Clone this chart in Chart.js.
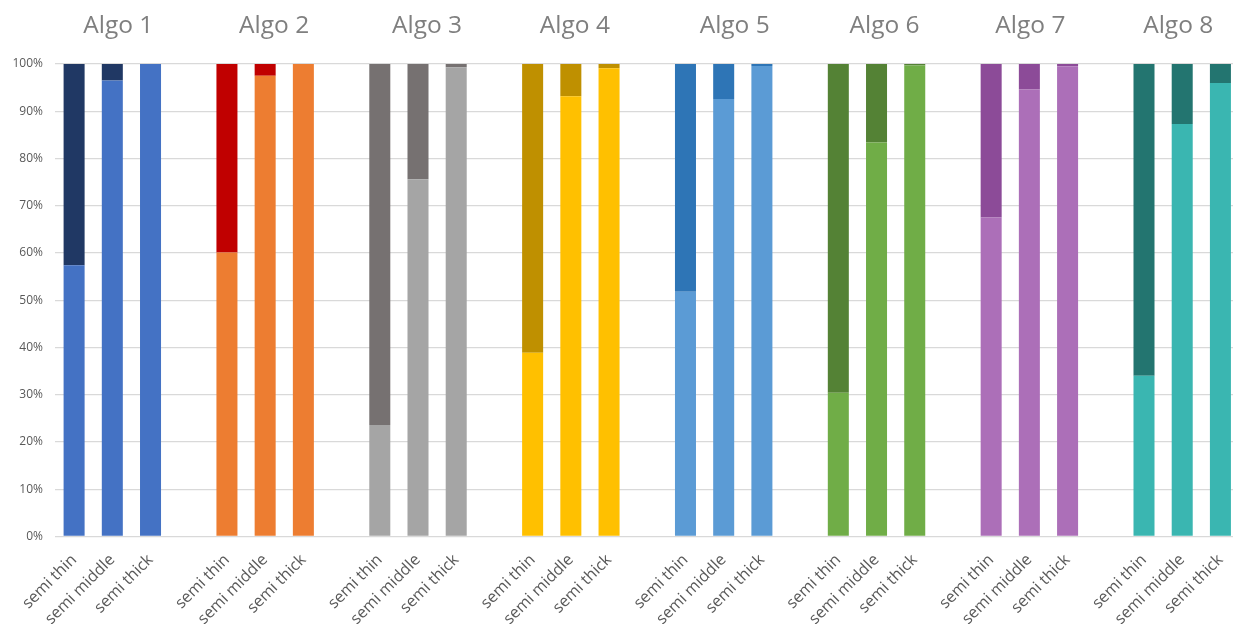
<!DOCTYPE html>
<html>
<head>
<meta charset="utf-8">
<script src="https://cdn.jsdelivr.net/npm/chart.js@4"></script>
<style>
  html, body { margin: 0; padding: 0; background: #fff; overflow: hidden; }
  #wrap { width: 1240px; height: 624px; }
</style>
</head>
<body>
<div id="wrap"><canvas id="shareChart"></canvas></div>
<script>
// Groups and bars inside each group
const algos = ['Algo 1', 'Algo 2', 'Algo 3', 'Algo 4', 'Algo 5', 'Algo 6', 'Algo 7', 'Algo 8'];
const thickness = ['semi thin', 'semi middle', 'semi thick'];

// Lower (light) part of each bar, in %
const lowerShare = [
  57.4, 96.5, 100,
  60.1, 97.5, 100,
  23.6, 75.6, 99.3,
  38.9, 93.2, 99.1,
  51.8, 92.6, 99.6,
  30.4, 83.4, 99.7,
  67.5, 94.6, 99.5,
  34.0, 87.3, 96.0
];
// Upper (dark) part of each bar, in %
const upperShare = [
  42.6, 3.5, 0,
  39.9, 2.5, 0,
  76.4, 24.4, 0.7,
  61.1, 6.8, 0.9,
  48.2, 7.4, 0.4,
  69.6, 16.6, 0.3,
  32.5, 5.4, 0.5,
  66.0, 12.7, 4.0
];
const yTicks = [0, 10, 20, 30, 40, 50, 60, 70, 80, 90, 100];

const lightColors = ['#4472C4', '#ED7D31', '#A5A5A5', '#FFC000', '#5B9BD5', '#70AD47', '#AC6FB8', '#3AB6B1'];
const darkColors = ['#203864', '#C00000', '#767171', '#BF9000', '#2E75B6', '#548235', '#8C4B98', '#237570'];

// Build the slot list: 3 bars per group, one blank slot between groups
const labels = [], lowerData = [], upperData = [], lowerBg = [], upperBg = [];
algos.forEach((name, g) => {
  thickness.forEach((t, i) => {
    labels.push(t);
    lowerData.push(lowerShare[g * 3 + i]);
    upperData.push(upperShare[g * 3 + i]);
    lowerBg.push(lightColors[g]);
    upperBg.push(darkColors[g]);
  });
  if (g < algos.length - 1) {
    labels.push('');
    lowerData.push(null);
    upperData.push(null);
    lowerBg.push('#fff');
    upperBg.push('#fff');
  }
});

// Group titles above each block of bars (the titles are hand placed text boxes,
// so each one sits a little off the middle bar)
const titleShift = [6, 9, 9, 4, 11, 8, 1, -4];
const groupTitles = {
  id: 'groupTitles',
  afterDraw(chart) {
    const ctx = chart.ctx;
    const xs = chart.scales.x;
    ctx.save();
    ctx.font = '24.5px "Open Sans"';
    ctx.fillStyle = '#7F7F7F';
    ctx.textAlign = 'center';
    ctx.textBaseline = 'alphabetic';
    algos.forEach((name, g) => {
      const x = xs.getPixelForValue(g * 4 + 1) + titleShift[g];
      ctx.fillText(name, x, 33);
    });
    ctx.restore();
  }
};

const ctx = document.getElementById('shareChart').getContext('2d');
new Chart(ctx, {
  type: 'bar',
  data: {
    labels: labels,
    datasets: [{
      label: 'lower',
      data: lowerData,
      backgroundColor: lowerBg,
      barPercentage: 0.55,
      categoryPercentage: 1
    }, {
      label: 'upper',
      data: upperData,
      backgroundColor: upperBg,
      barPercentage: 0.55,
      categoryPercentage: 1
    }]
  },
  options: {
    responsive: true,
    maintainAspectRatio: false,
    animation: false,
    layout: { padding: { top: 64, right: 0, left: 0, bottom: 0 } },
    plugins: {
      legend: { display: false },
      tooltip: { enabled: false }
    },
    scales: {
      x: {
        stacked: true,
        grid: { display: false },
        border: { display: false },
        ticks: {
          autoSkip: false,
          maxRotation: 45,
          minRotation: 45,
          color: '#595959',
          font: { family: 'Open Sans', size: 16 },
          padding: 6
        },
        afterFit(scale) { scale.height = 87.5; }
      },
      y: {
        stacked: true,
        min: 0,
        max: 100,
        afterBuildTicks(scale) { scale.ticks = yTicks.map(v => ({ value: v })); },
        grid: { color: '#D9D9D9', lineWidth: 1.3, drawTicks: false },
        border: { display: false },
        ticks: {
          color: '#595959',
          font: { family: 'Open Sans', size: 12 },
          padding: 12,
          callback: v => v + '%'
        },
        afterFit(scale) { scale.width = 55; }
      }
    }
  },
  plugins: [groupTitles]
});
</script>
</body>
</html>
